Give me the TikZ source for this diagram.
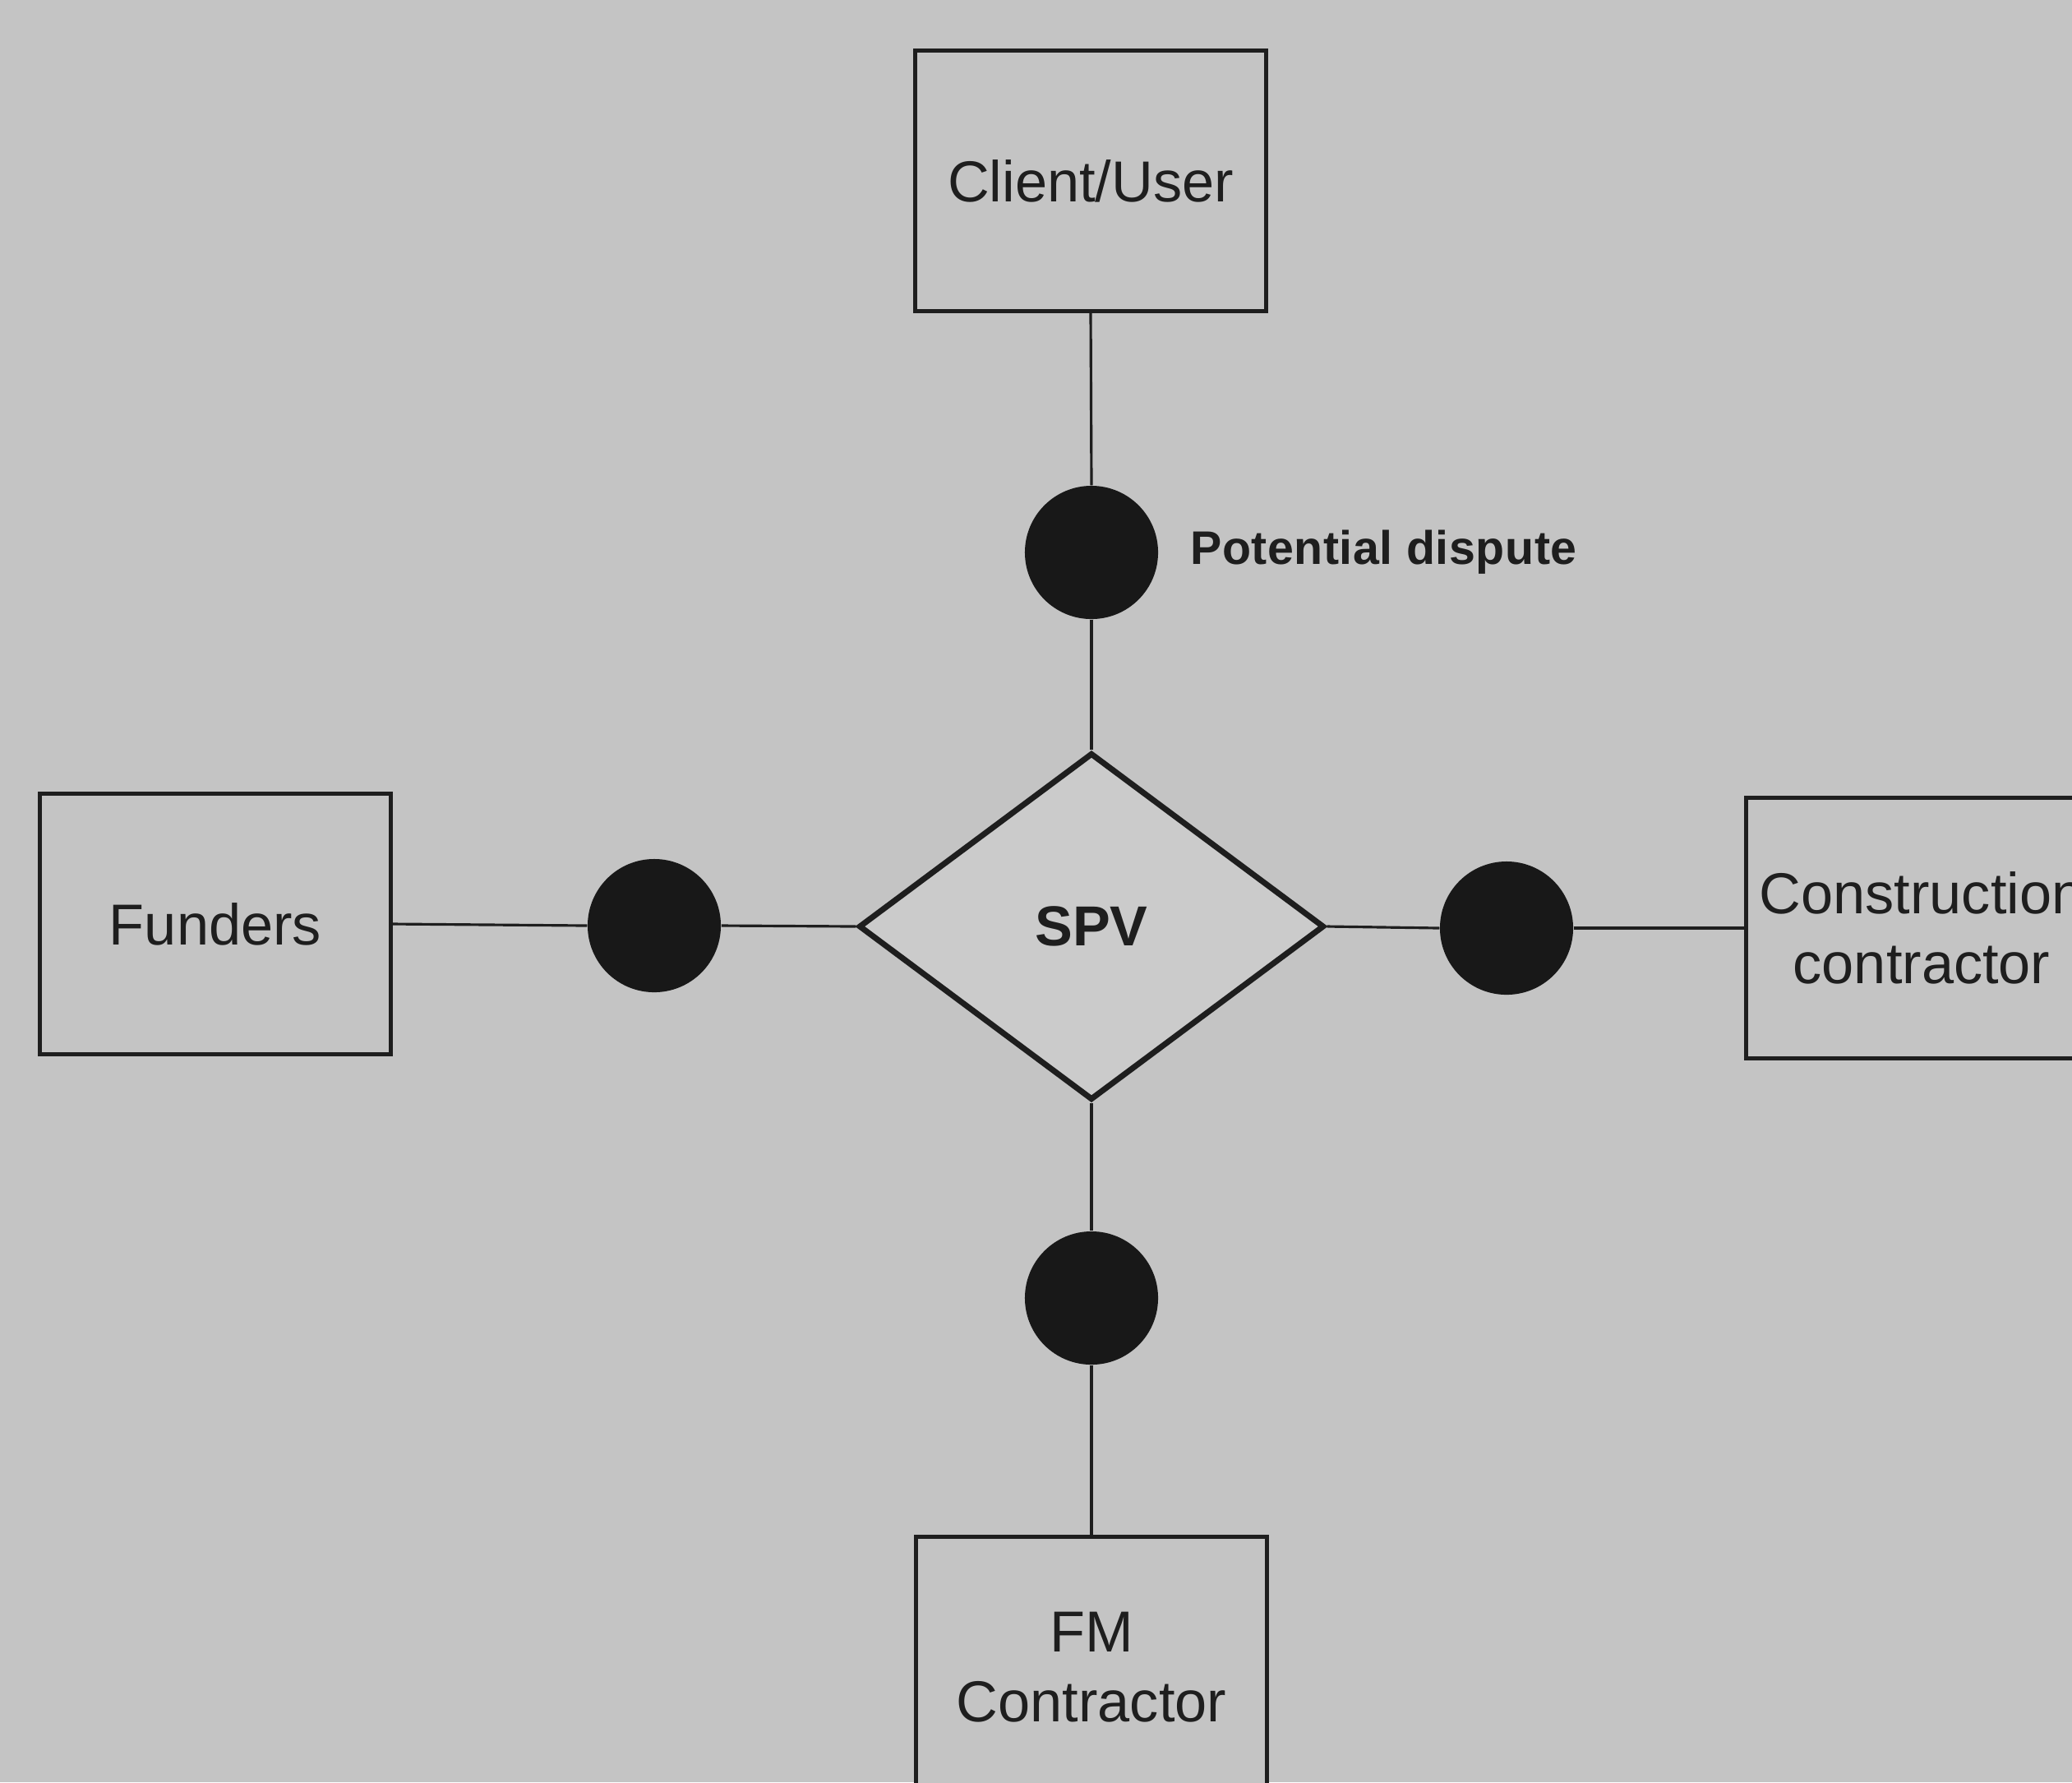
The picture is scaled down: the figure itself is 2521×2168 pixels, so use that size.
\documentclass[tikz,border=0pt]{standalone}
\usepackage{fontspec}
\setmainfont{Liberation Sans}
\newfontfamily\labelfont[LetterSpace=1]{Liberation Sans}
\usetikzlibrary{shapes.geometric}
\definecolor{paper}{RGB}{196,196,196}
\definecolor{spvfill}{RGB}{203,203,203}
\definecolor{ink}{RGB}{30,30,30}
\definecolor{dot}{RGB}{24,24,24}
\tikzset{
  party/.style={draw=ink, line width=1.3pt, fill=paper, rectangle,
    minimum width=4.27cm, minimum height=3.17cm, inner sep=0pt,
    align=center, text=ink, font=\fontsize{20}{24}\selectfont},
  hub/.style={draw=ink, line width=2pt, fill=spvfill, diamond,
    minimum width=5.66cm, minimum height=4.22cm, inner sep=0pt,
    text=ink, font=\bfseries\fontsize{19.5}{24}\selectfont},
  disputedot/.style={circle, fill=dot, draw=none, minimum size=1.62cm, inner sep=0pt},
  link/.style={draw=ink, line width=0.9pt},
}
\begin{document}
\begin{tikzpicture}[x=0.01cm, y=-0.01cm]
  \useasboundingbox (0,0) rectangle (2521,2168);
  \clip (0,0) rectangle (2521,2168);
  \fill[paper] (0,0) rectangle (2521,2168);

  % parties around the SPV
  \node[party] (client) at (1327,220) {Client/User};
  \node[party] (funders) at (262,1124) {Funders};
  \node[party] (builder) at (2338,1129) {Construction\\contractor};
  \node[party] (fm) at (1328,2028) {FM\\Contractor};

  % special purpose vehicle
  \node[hub] (spv) at (1328,1127) {SPV};

  % dispute points on each link
  \node[disputedot] (dtop) at (1328,672) {};
  \node[disputedot] (dleft) at (796,1126) {};
  \node[disputedot] (dright) at (1833,1129) {};
  \node[disputedot] (dbottom) at (1328,1579) {};

  \node[anchor=west, text=ink, font=\labelfont\bfseries\fontsize{16.3}{20}\selectfont]
    (lbl) at ([xshift=0.26cm]dtop.east) {Potential dispute};

  % connectors
  \draw[link] (client.south) -- (dtop.north);
  \draw[link] (dtop.south) -- (spv.north);
  \draw[link] (funders.east) -- (dleft.west);
  \draw[link] (dleft.east) -- (spv.west);
  \draw[link] (spv.east) -- (dright.west);
  \draw[link] (dright.east) -- (builder.west);
  \draw[link] (spv.south) -- (dbottom.north);
  \draw[link] (dbottom.south) -- (fm.north);
\end{tikzpicture}
\end{document}
